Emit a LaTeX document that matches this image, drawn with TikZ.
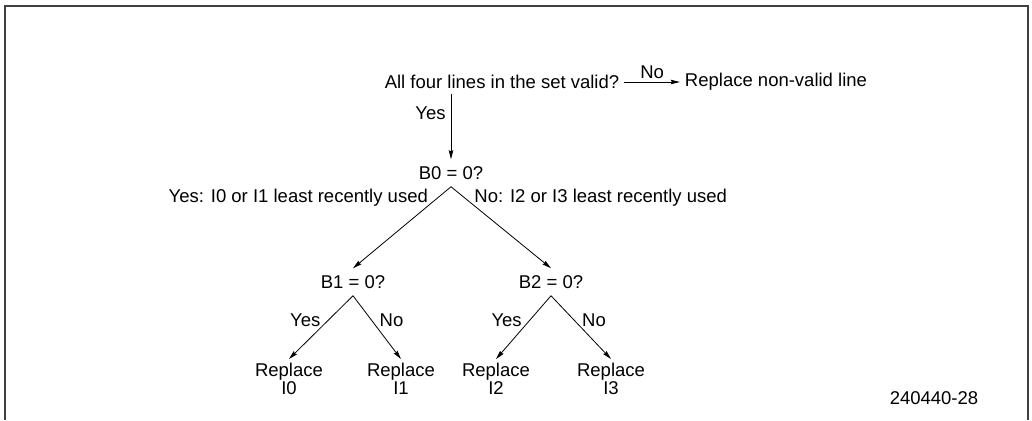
\documentclass[tikz,border=0pt]{standalone}
\usepackage{fontspec}
\setmainfont{Liberation Sans}
\usetikzlibrary{arrows.meta}

\tikzset{
  txt/.style={inner sep=5pt, font=\fontsize{18.5}{18}\selectfont},
  dec/.style={txt, inner sep=7pt},
  repl/.style={txt, align=center, inner sep=4pt},
  lbl/.style={txt, inner sep=2pt},
  arr/.style={line width=0.8pt, -{Stealth[length=9pt,width=4.5pt,inset=1pt]}}
}

\begin{document}
\begin{tikzpicture}[x=1pt, y=-1pt]
  \useasboundingbox (0,0) rectangle (1032,420);
  % frame
  \draw[line width=1.2pt, black!75] (5,420) -- (5,6) -- (1028,6) -- (1028,420);

  % top question
  \node[txt] (valid) at (502,82) {All four lines in the set valid?};
  \node[txt] (replnv) at (776,82) {Replace non-valid line};
  \draw[arr] (valid.east) -- node[lbl, above=1pt] {No} (replnv.west);

  % decisions
  \node[dec] (b0) at (451,173) {B0 = 0?};
  \node[dec] (b1) at (353,282) {B1 = 0?};
  \node[dec] (b2) at (551,282) {B2 = 0?};
  \draw[arr] (valid.south -| b0) -- node[lbl, pos=.3, left=3pt] {Yes} (b0.north);

  \draw[arr] (b0.south) -- node[lbl, pos=.13, left=8pt] {Yes: I0 or I1 least recently used} (b1.north);
  \draw[arr] (b0.south) -- node[lbl, pos=.13, right=8pt] {No: I2 or I3 least recently used} (b2.north);

  % leaves
  \node[repl] (r0) at (289,379) {Replace\\I0};
  \node[repl] (r1) at (401,379) {Replace\\I1};
  \node[repl] (r2) at (496,379) {Replace\\I2};
  \node[repl] (r3) at (611,379) {Replace\\I3};

  \draw[arr] (b1.south) -- node[lbl, pos=.38, left=6pt] {Yes} (r0.north);
  \draw[arr] (b1.south) -- node[lbl, pos=.38, right=6pt] {No} (r1.north);
  \draw[arr] (b2.south) -- node[lbl, pos=.38, left=6pt] {Yes} (r2.north);
  \draw[arr] (b2.south) -- node[lbl, pos=.38, right=6pt] {No} (r3.north);

  % figure number
  \node[txt] (fignum) at (934,398) {240440-28};
\end{tikzpicture}
\end{document}
